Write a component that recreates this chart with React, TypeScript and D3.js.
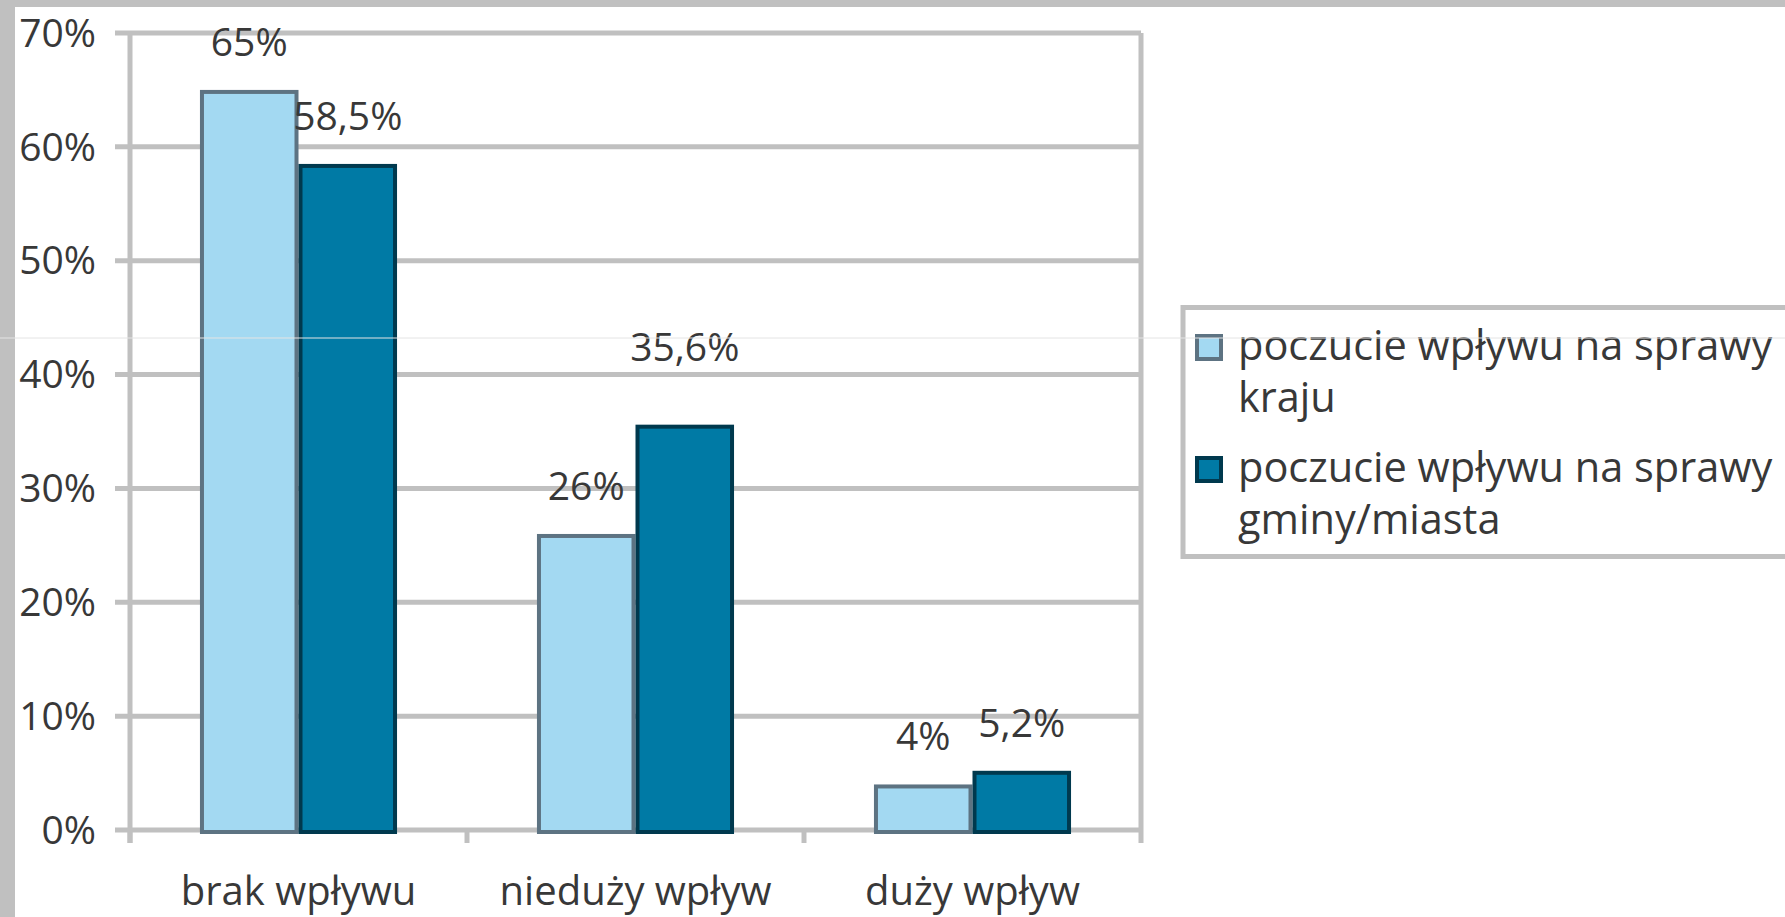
import React from "react";
import * as d3 from "d3";

// chart values
const categories = ["brak wpływu", "nieduży wpływ", "duży wpływ"];
const seriesKeys = ["kraj", "gmina"];
const krajValues = [65, 26, 4];
const gminaValues = [58.5, 35.6, 5.2];
const yTickValues = [0, 10, 20, 30, 40, 50, 60, 70];
const legendLines = [
  ["poczucie wpływu na sprawy", "kraju"],
  ["poczucie wpływu na sprawy", "gminy/miasta"],
];

// the "35,6%" label sits higher than the rest in the original
const labelExtraLift = [
  [0, 0, 0],
  [0, 30, 0],
];

const W = 1785;
const H = 917;
const FONT = "'Open Sans', 'Noto Sans', sans-serif";
const TEXT = "#383838";
const GRID = "#c0c0c0";
const fills = ["#a3d9f2", "#007aa5"];
const strokes = ["#5d7382", "#00394e"];

const fmt = (v: number) => `${String(v).replace(".", ",")}%`;

export default function App() {
  const plot = { left: 130, right: 1141, top: 33, bottom: 830 };

  const x0 = d3.scaleBand<string>()
    .domain(categories)
    .range([plot.left, plot.right])
    .padding(0);
  const x1 = d3.scaleBand<string>()
    .domain(seriesKeys)
    .range([0, x0.bandwidth()])
    .paddingInner(0)
    .paddingOuter(0.71);
  const y = d3.scaleLinear().domain([0, 70]).range([plot.bottom, plot.top]);

  const series = [krajValues, gminaValues];
  const sw = 4;

  return (
    <svg width={W} height={H} style={{ position: "absolute", left: 0, top: 0 }}
      fontFamily={FONT}>
      <rect width={W} height={H} fill="#c0c0c0" />
      <rect x={15} y={7} width={W - 15} height={H - 7} fill="#fff" />

      {/* gridlines + y ticks */}
      {yTickValues.map((t) => (
        <g key={t}>
          <line x1={plot.left - 15} x2={plot.right} y1={y(t)} y2={y(t)}
            stroke={GRID} strokeWidth={5} />
          <text x={96} y={y(t)} dy="0.35em" textAnchor="end" fontSize={39}
            fill={TEXT}>{t}%</text>
        </g>
      ))}

      {/* axes frame */}
      <line x1={plot.left} x2={plot.left} y1={plot.top} y2={plot.bottom + 13}
        stroke={GRID} strokeWidth={5} />
      {[...categories.map((c) => x0(c) as number), plot.right].map((tx, i) => (
        <line key={i} x1={tx} x2={tx} y1={i === categories.length ? plot.top : plot.bottom}
          y2={plot.bottom + 13} stroke={GRID} strokeWidth={5} />
      ))}

      {/* bars */}
      {series.map((vals, si) =>
        vals.map((v, ci) => {
          const bx = (x0(categories[ci]) as number) + (x1(seriesKeys[si]) as number);
          const bw = x1.bandwidth();
          const top = y(v);
          return (
            <rect key={`${si}-${ci}`} x={bx + sw / 2} y={top + sw / 2}
              width={bw - sw} height={plot.bottom - top - sw / 2 + 2}
              fill={fills[si]} stroke={strokes[si]} strokeWidth={sw} />
          );
        })
      )}

      {/* data labels */}
      {series.map((vals, si) =>
        vals.map((v, ci) => {
          const cx = (x0(categories[ci]) as number) + (x1(seriesKeys[si]) as number)
            + x1.bandwidth() / 2;
          return (
            <text key={`l${si}-${ci}`} x={cx} y={y(v) - 34 - labelExtraLift[si][ci]}
              textAnchor="middle" fontSize={39} fill={TEXT}>{fmt(v)}</text>
          );
        })
      )}

      {/* category labels */}
      {categories.map((c) => (
        <text key={c} x={(x0(c) as number) + x0.bandwidth() / 2} y={905}
          textAnchor="middle" fontSize={40} fill={TEXT}>{c}</text>
      ))}

      {/* legend */}
      <rect x={1183} y={307.5} width={W} height={249} fill="#fff"
        stroke={GRID} strokeWidth={5} />
      {legendLines.map((lines, i) => {
        const base = 360 + i * 122;
        return (
          <g key={i}>
            <rect x={1197} y={base - 24} width={24} height={23}
              fill={fills[i]} stroke={strokes[i]} strokeWidth={4} />
            {lines.map((ln, j) => (
              <text key={j} x={1238} y={base + j * 52} fontSize={41.5}
                fill={TEXT}>{ln}</text>
            ))}
          </g>
        );
      })}

      {/* faint scan line across the picture */}
      <line x1={0} x2={W} y1={338} y2={338} stroke="#e4e4e4" strokeWidth={1} />
    </svg>
  );
}
